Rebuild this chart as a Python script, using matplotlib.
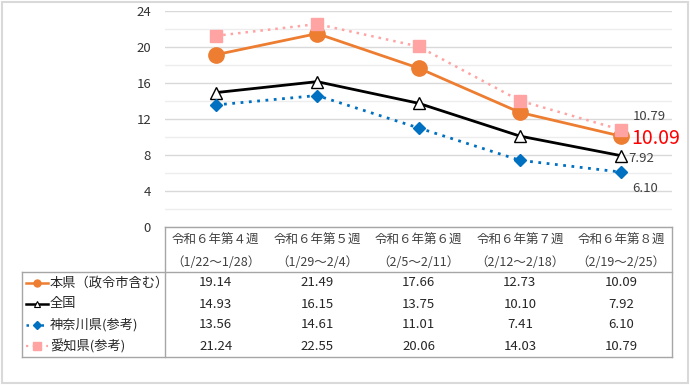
import numpy as np
import matplotlib.pyplot as plt
from matplotlib.lines import Line2D
from matplotlib.patches import Rectangle

plt.rcParams['font.family'] = ['Noto Sans CJK JP', 'DejaVu Sans']

weeks = ['令和６年第４週', '令和６年第５週', '令和６年第６週', '令和６年第７週', '令和６年第８週']
periods = ['（1/22～1/28）', '（1/29～2/4）', '（2/5～2/11）', '（2/12～2/18）', '（2/19～2/25）']
names = ['本県（政令市含む）', '全国', '神奈川県(参考)', '愛知県(参考)']
honken = [19.14, 21.49, 17.66, 12.73, 10.09]
zenkoku = [14.93, 16.15, 13.75, 10.10, 7.92]
kanagawa = [13.56, 14.61, 11.01, 7.41, 6.10]
aichi = [21.24, 22.55, 20.06, 14.03, 10.79]
series = [honken, zenkoku, kanagawa, aichi]
yticks = [0, 4, 8, 12, 16, 20, 24]

styles = [
    dict(color='#ED7D31', ls='-', lw=2, marker='o', ms=11, mfc='#ED7D31', mec='#ED7D31'),
    dict(color='black', ls='-', lw=2, marker='^', ms=8, mfc='white', mec='black', mew=1),
    dict(color='#0070C0', ls=(0, (1, 2)), lw=2, marker='D', ms=6, mfc='#0070C0', mec='#0070C0'),
    dict(color='#FFA3A3', ls=(0, (1, 2)), lw=1.8, marker='s', ms=9, mfc='#FFA3A3', mec='#FFA3A3'),
]
legend_ms = [5, 5, 4, 5.5]

W, H = 690, 385
fig = plt.figure(figsize=(W / 100, H / 100), dpi=100)

# overlay in pixel coordinates for the table and frame
ov = fig.add_axes([0, 0, 1, 1])
ov.set_xlim(0, W)
ov.set_ylim(H, 0)
ov.axis('off')

x0, x1, ytop, ybot = 165, 672, 11, 227
ax = fig.add_axes([x0 / W, (H - ybot) / H, (x1 - x0) / W, (ybot - ytop) / H])
ax.set_xlim(-0.5, 4.5)
ax.set_ylim(0, 24)
ax.set_yticks(yticks)
ax.set_yticks(np.arange(2, 24, 4), minor=True)
ax.grid(axis='y', which='major', color='#D9D9D9', lw=1)
ax.grid(axis='y', which='minor', color='#EDEDED', lw=1)
ax.set_axisbelow(True)
ax.set_xticks([])
for s in ax.spines.values():
    s.set_visible(False)
ax.tick_params(axis='y', which='both', length=0, pad=10, labelsize=9.5, labelcolor='#333333')
ax.patch.set_alpha(0)

xs = np.arange(len(weeks))
order = [3, 0, 1, 2]
for i in order:
    ax.plot(xs, series[i], zorder=3 + i, **styles[i])

ax.annotate(f'{aichi[-1]:.2f}', (xs[-1], aichi[-1]), xytext=(8, 5), textcoords='offset points',
            fontsize=9.5, color='#404040', va='bottom', ha='left')
ax.annotate(f'{honken[-1]:.2f}', (xs[-1], honken[-1]), xytext=(7, -2), textcoords='offset points',
            fontsize=14, color='#FF0000', va='center', ha='left')
ax.annotate(f'{zenkoku[-1]:.2f}', (xs[-1], zenkoku[-1]), xytext=(5, -2), textcoords='offset points',
            fontsize=9.5, color='#404040', va='center', ha='left')
ax.annotate(f'{kanagawa[-1]:.2f}', (xs[-1], kanagawa[-1]), xytext=(8, -7), textcoords='offset points',
            fontsize=9.5, color='#404040', va='top', ha='left')

# table
gc = '#A6A6A6'
lx = 22
hdr_bot = 272
tab_bot = 357
ov.plot([x0, x1], [ybot, ybot], color=gc, lw=1)
ov.plot([lx, x1], [hdr_bot, hdr_bot], color=gc, lw=1)
ov.plot([lx, x1], [tab_bot, tab_bot], color=gc, lw=1)
ov.plot([x0, x0], [ybot, tab_bot], color=gc, lw=1)
ov.plot([x1, x1], [ybot, tab_bot], color=gc, lw=1)
ov.plot([lx, lx], [hdr_bot, tab_bot], color=gc, lw=1)

colw = (x1 - x0) / len(weeks)
for j in range(len(weeks)):
    cx = x0 + colw * (j + 0.5)
    ov.text(cx, 240, weeks[j], ha='center', va='center', fontsize=9, color='#404040')
    ov.text(cx, 262, periods[j], ha='center', va='center', fontsize=9, color='#404040')

row_y = [283, 304, 325, 346]
for i, (name, vals) in enumerate(zip(names, series)):
    y = row_y[i]
    st = dict(styles[i])
    st['ms'] = legend_ms[i]
    st['lw'] = st['lw'] * 0.9
    if i == 1:
        st['mew'] = 0.8
    ov.add_line(Line2D([26, 37, 48], [y, y, y], markevery=[1], **st))
    ov.text(50, y, name, ha='left', va='center', fontsize=9.5, color='#262626')
    for j, v in enumerate(vals):
        cx = x0 + colw * (j + 0.5)
        ov.text(cx, y, f'{v:.2f}', ha='center', va='center', fontsize=9.5, color='#262626')

ov.add_patch(Rectangle((2, 2), W - 4, H - 4, fill=False, ec='#D9D9D9', lw=1.5))

fig.savefig('out.png', dpi=100)
